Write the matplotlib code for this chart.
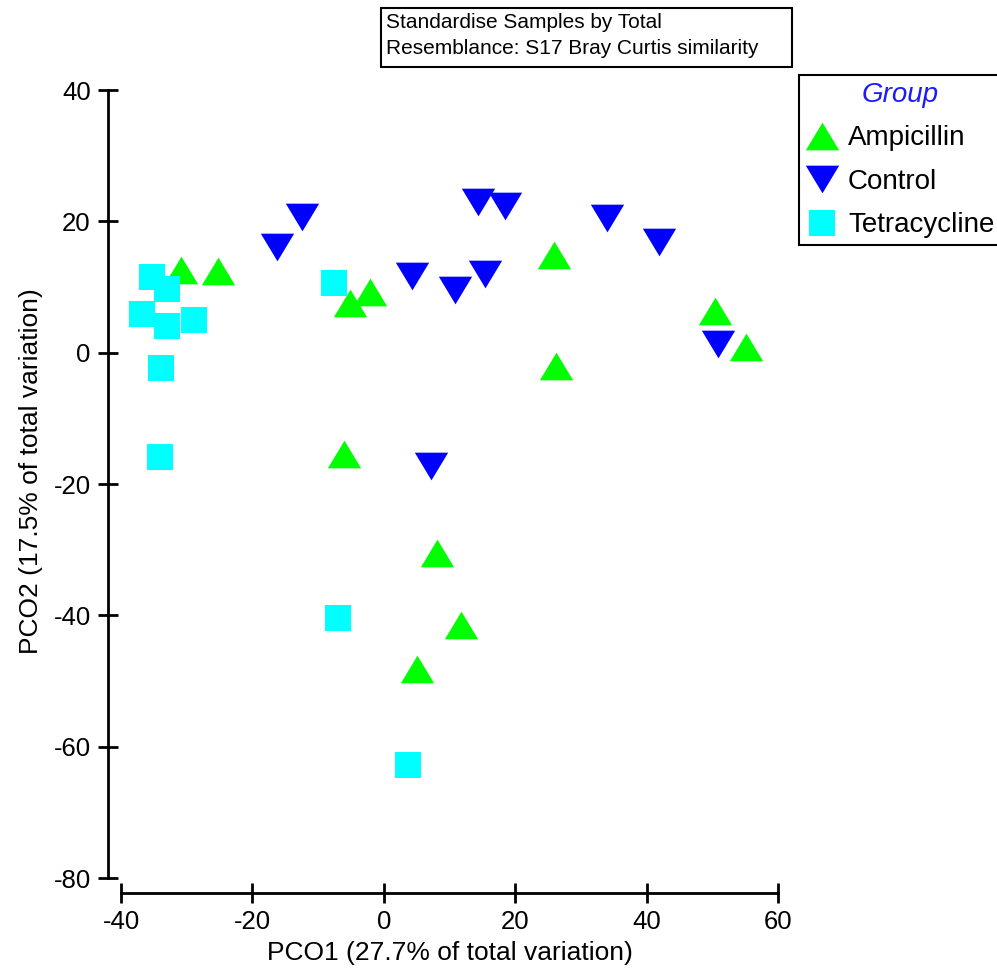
import matplotlib
matplotlib.use("Agg")
import matplotlib.pyplot as plt
from matplotlib.patches import Rectangle

plt.rcParams["font.family"] = ["Liberation Sans", "DejaVu Sans"]
plt.rcParams["axes.unicode_minus"] = False

# PCO scores per group
amp_x = [-30.8, -25.3, -5.1, -2.1, 25.9, 50.4, 55.1, 26.2, -6.1, 8.1, 11.8, 5.1]
amp_y = [12.6, 12.5, 7.5, 9.2, 14.8, 6.4, 0.8, -2.1, -15.4, -30.5, -41.5, -48.2]

ctl_x = [-12.5, -16.3, 14.4, 18.4, 33.9, 41.9, 4.3, 10.8, 15.4, 50.9, 7.2]
ctl_y = [20.6, 16.1, 22.9, 22.3, 20.5, 16.9, 11.6, 9.5, 12.0, 1.3, -17.2]

tet_x = [-35.3, -33.0, -36.8, -33.0, -28.9, -33.9, -7.6, -34.1, -7.0, 3.7]
tet_y = [11.5, 9.7, 5.9, 4.1, 5.0, -2.3, 10.6, -15.9, -40.4, -62.8]

x_ticks = [-40, -20, 0, 20, 40, 60]
y_ticks = [-80, -60, -40, -20, 0, 20, 40]

W, H = 997, 974
fig = plt.figure(figsize=(W / 100, H / 100), dpi=100)
ax = fig.add_axes([121 / W, 1 - 878 / H, 657 / W, 788 / H])

# slightly flattened triangles
up = [(-1, -0.83), (1, -0.83), (0, 0.83), (-1, -0.83)]
down = [(-1, 0.83), (1, 0.83), (0, -0.83), (-1, 0.83)]

ax.plot(amp_x, amp_y, ls="none", marker=up, ms=24, mfc="#00ff00", mew=0,
        label="Ampicillin")
ax.plot(ctl_x, ctl_y, ls="none", marker=down, ms=24, mfc="#0000ff", mew=0,
        label="Control")
ax.plot(tet_x, tet_y, ls="none", marker="s", ms=19.2, mfc="#00ffff", mew=0,
        label="Tetracycline")

ax.set_xlim(-40, 60)
ax.set_ylim(-80, 40)
ax.set_xticks(x_ticks)
ax.set_yticks(y_ticks)

for s in ["top", "right"]:
    ax.spines[s].set_visible(False)
ax.spines["left"].set_position(("outward", 13 * 0.72))
ax.spines["bottom"].set_position(("outward", 15 * 0.72))
ax.spines["left"].set_bounds(-80, 40)
ax.spines["bottom"].set_bounds(-40, 60)
for s in ["left", "bottom"]:
    ax.spines[s].set_linewidth(2)

ax.tick_params(direction="inout", length=15, width=2, labelsize=18.5, pad=5)

ax.set_xlabel("PCO1 (27.7% of total variation)", fontsize=19)
ax.xaxis.set_label_coords(0.5, -0.080)
ax.set_ylabel("PCO2 (17.5% of total variation)", fontsize=19)
ax.yaxis.set_label_coords(-0.118, 0.516)

leg = ax.legend(loc="upper left", bbox_to_anchor=(799 / W, 1 - 75 / H),
                bbox_transform=fig.transFigure, title="Group", fontsize=20,
                title_fontproperties={"style": "italic", "size": 20},
                frameon=True, fancybox=False, edgecolor="black", framealpha=1,
                borderpad=0.25, handlelength=1.15, handletextpad=0.36,
                labelspacing=0.63, borderaxespad=0, numpoints=1)
leg.get_frame().set_linewidth(1.5)
leg.get_title().set_color("#1a1aff")

# method note box
fig.add_artist(Rectangle((381 / W, 1 - 67 / H), (792 - 381) / W, (67 - 8) / H,
                         transform=fig.transFigure, fill=False, lw=1.5,
                         ec="black"))
fig.text(386 / W, 1 - 22 / H, "Standardise Samples by Total",
         va="center", fontsize=15)
fig.text(386 / W, 1 - 48 / H, "Resemblance: S17 Bray Curtis similarity",
         va="center", fontsize=15)

fig.savefig("out.png", dpi=100)
